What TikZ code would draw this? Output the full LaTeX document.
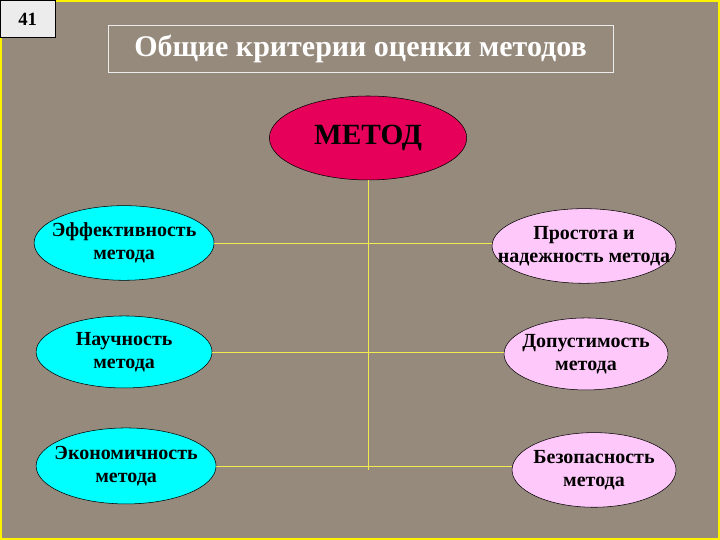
\documentclass[tikz,border=0pt]{standalone}
\usepackage{fontspec}
\setmainfont{Liberation Serif}
\usetikzlibrary{shapes.geometric}
\begin{document}
\begin{tikzpicture}[x=0.75pt,y=-0.75pt,
  ell/.style={ellipse,draw=black,thin,align=center,inner xsep=-30pt,inner ysep=-10pt,font=\bfseries\fontsize{15}{17}\selectfont},
  lnk/.style={draw={rgb,255:red,240;green,235;blue,80},line width=0.6pt}]
\fill[fill={rgb,255:red,150;green,138;blue,124}] (0,0) rectangle (720,540);
\draw[yellow,line width=1.5pt] (1,1) rectangle (719,539);
\node[draw=black,fill=gray!15,minimum width=41pt,minimum height=28pt,inner sep=0pt,font=\bfseries\fontsize{14}{14}\selectfont] (num) at (27.5,19) {41};
\node[draw=white!85!gray,thin,minimum width=379pt,minimum height=35pt,text=white,font=\bfseries\fontsize{22.5}{22.5}\selectfont] (title) at (360.5,48.5) {Общие критерии оценки методов};
\node[ell,fill={rgb,255:red,230;green,0;blue,90},minimum width=148pt,minimum height=63pt,font=\bfseries\fontsize{22}{22}\selectfont] (m) at (368,138) {МЕТОД};
\node[ell,fill={rgb,255:red,0;green,255;blue,255},minimum width=135pt,minimum height=56pt] (a) at (124,243) {Эффективность\\метода};
\node[ell,fill={rgb,255:red,0;green,255;blue,255},minimum width=132pt,minimum height=54pt] (b) at (124,352) {Научность\\метода};
\node[ell,fill={rgb,255:red,0;green,255;blue,255},minimum width=135pt,minimum height=57pt] (c) at (126,466) {Экономичность\\метода};
\node[ell,fill={rgb,255:red,255;green,200;blue,250},minimum width=138pt,minimum height=56pt] (d) at (584,246) {Простота и\\надежность метода};
\node[ell,fill={rgb,255:red,255;green,200;blue,250},minimum width=123pt,minimum height=54pt] (e) at (586,354) {Допустимость\\метода};
\node[ell,fill={rgb,255:red,255;green,200;blue,250},minimum width=123pt,minimum height=56pt] (f) at (594,470) {Безопасность\\метода};
\coordinate (bot) at (368,470);
\draw[lnk] (m.south) -- (bot);
\draw[lnk] (a.east) -- (d.west |- a.east);
\draw[lnk] (b.east) -- (e.west |- b.east);
\draw[lnk] (c.east) -- (f.west |- c.east);
\end{tikzpicture}
\end{document}
